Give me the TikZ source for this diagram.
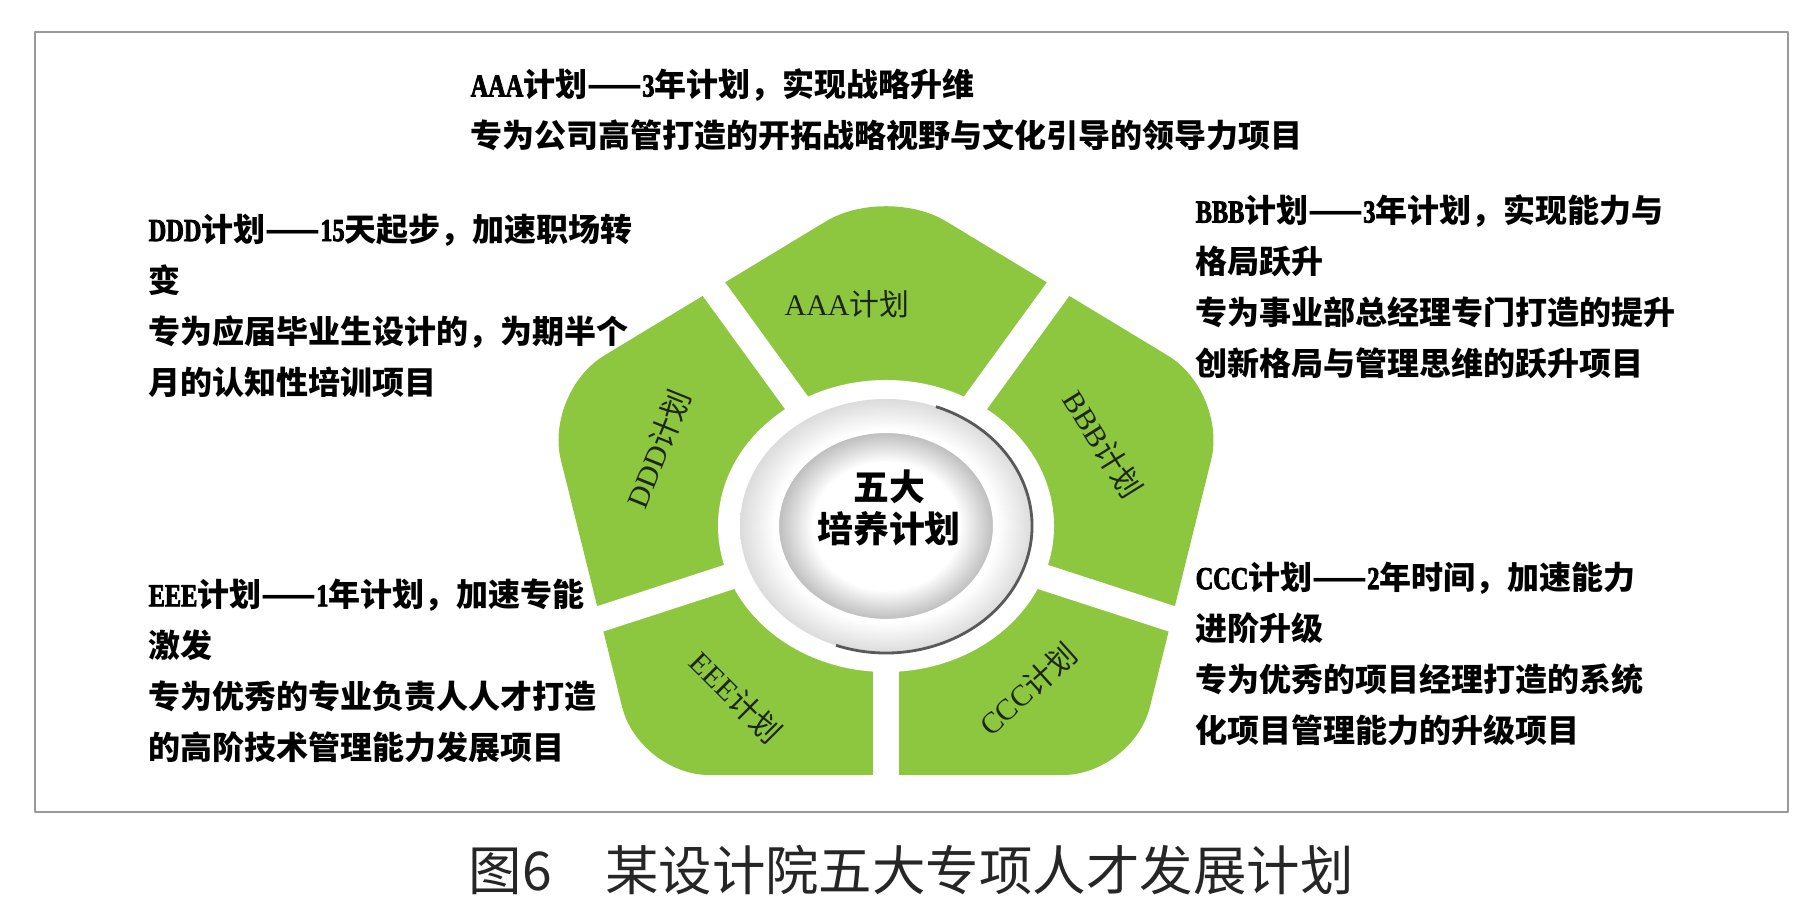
\documentclass[tikz,border=0pt]{standalone}
\usepackage{fontspec}
\setmainfont{Liberation Serif}
\newfontfamily\cjk{Noto Sans CJK SC}
\newfontfamily\latn{Liberation Serif Bold}[FakeStretch=0.76, FakeBold=2.5]
\definecolor{leaf}{RGB}{141,198,63}
\definecolor{ink}{RGB}{28,38,22}
\pgfdeclareradialshading{ringshade}{\pgfpoint{0bp}{0bp}}{color(0bp)=(white); color(19bp)=(white); color(25bp)=(black!14); color(50bp)=(black!14)}
\pgfdeclareradialshading{discshade}{\pgfpoint{0bp}{0bp}}{color(0bp)=(white); color(17bp)=(white); color(25bp)=(black!26); color(50bp)=(black!26)}
\tikzset{
	plan/.style={anchor=north west, inner sep=0pt, align=left, font=\cjk\bfseries\fontsize{9.1pt}{14.5pt}\selectfont},
	tag/.style={inner sep=0pt, text=ink, font=\fontsize{8.5pt}{10pt}\selectfont}
}
\begin{document}
\begin{tikzpicture}[x=0.01cm, y=0.01cm, line join=round]
				\useasboundingbox (0,0) rectangle (1819,922);
				\coordinate (O) at (886,396);
				\coordinate (T) at (886,737);
				\coordinate (L) at (544,530);
				\coordinate (R) at (1228,530);
				\coordinate (P) at (639,147);
				\coordinate (Q) at (1133,147);
				
				\fill[leaf, rounded corners=0.7cm] (T) -- (R) -- (Q) -- (P) -- (L) -- cycle;
				% khe trắng giữa các mảnh
				\foreach \a in {54,126,198,270,342}
					\draw[white, line width=0.26cm] (O) -- ++(\a:330);
				\fill[white] (O) ellipse [x radius=168, y radius=146];
				\shade[shading=ringshade] (O) ellipse [x radius=146, y radius=127];
				\draw[black!65, line width=0.8pt] ([shift={(70:146 and 127)}]O) arc [start angle=70, end angle=-110, x radius=146, y radius=127];
				\shade[shading=discshade] (O) ellipse [x radius=108, y radius=94];
				\draw[white, line width=0.6pt] (O) ellipse [x radius=108, y radius=94];
				\draw[black!40, line width=0.6pt] (35,110) rectangle (1788,890);
				
				\node[tag] (la) at (847,618) {AAA\cjk 计划};
				\node[tag, rotate=-58] (lb) at (1103,478) {BBB\cjk 计划};
				\node[tag, rotate=42] (lc) at (1028,233) {CCC\cjk 计划};
				\node[tag, rotate=68] (ld) at (658,473) {DDD\cjk 计划};
				\node[tag, rotate=-45] (le) at (736,225) {EEE\cjk 计划};
				\node[align=center, inner sep=0pt, font=\cjk\bfseries\fontsize{10.2pt}{12pt}\selectfont] (hub) at (889,414) {五大\\培养计划};
				
				\node[plan] (a) at (470,854) {{\latn AAA}计划——{\latn 3}年计划，实现战略升维\\专为公司高管打造的开拓战略视野与文化引导的领导力项目};
				\node[plan] (b) at (1195,728) {{\latn BBB}计划——{\latn 3}年计划，实现能力与\\格局跃升\\专为事业部总经理专门打造的提升\\创新格局与管理思维的跃升项目};
				\node[plan] (c) at (1195,361) {{\latn CCC}计划——{\latn 2}年时间，加速能力\\进阶升级\\专为优秀的项目经理打造的系统\\化项目管理能力的升级项目};
				\node[plan] (d) at (148,709) {{\latn DDD}计划——{\latn 15}天起步，加速职场转\\变\\专为应届毕业生设计的，为期半个\\月的认知性培训项目};
				\node[plan] (e) at (148,344) {{\latn EEE}计划——{\latn 1}年计划，加速专能\\激发\\专为优秀的专业负责人人才打造\\的高阶技术管理能力发展项目};
				
				\node[text=black!85, font=\cjk\fontsize{15.2pt}{16pt}\selectfont] (cap) at (911,52) {图6\quad 某设计院五大专项人才发展计划};
			\end{tikzpicture}
\end{document}
